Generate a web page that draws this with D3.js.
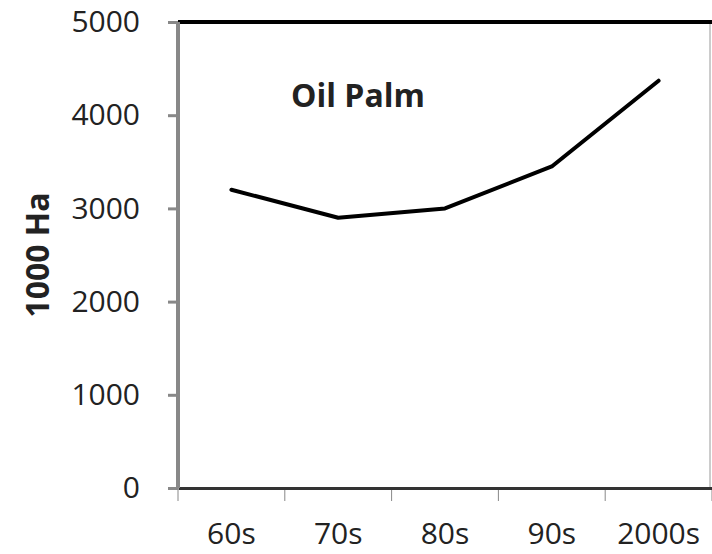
<!DOCTYPE html>
<html>
<head>
<meta charset="utf-8">
<script src="https://cdn.jsdelivr.net/npm/d3@7"></script>
<style>
  body { margin: 0; background: #fff; }
  text { font-family: "Open Sans", "DejaVu Sans", sans-serif; fill: #222; }
</style>
</head>
<body>
<div id="chart"></div>
<script>
const decades = ["60s", "70s", "80s", "90s", "2000s"];
const areaValues = [3200, 2900, 3000, 3450, 4370];
const yTicks = [0, 1000, 2000, 3000, 4000, 5000];

const width = 712, height = 554;
const margin = { top: 22, right: 2, bottom: 66, left: 178 };

const svg = d3.select("#chart").append("svg")
    .attr("width", width)
    .attr("height", height);

const x = d3.scaleBand()
    .domain(decades)
    .range([margin.left, width - margin.right + 2]);

const y = d3.scaleLinear()
    .domain([0, 5000])
    .range([height - margin.bottom, margin.top]);

// right border
svg.append("line")
    .attr("x1", width - 2).attr("x2", width - 2)
    .attr("y1", y(5000)).attr("y2", y(0))
    .attr("stroke", "#999").attr("stroke-width", 1);

// top frame line
svg.append("line")
    .attr("x1", margin.left).attr("x2", width)
    .attr("y1", y(5000)).attr("y2", y(5000))
    .attr("stroke", "#000").attr("stroke-width", 4);

// x axis
const xAxis = svg.append("g")
    .attr("transform", `translate(0,${y(0)})`)
    .call(d3.axisBottom(x).tickSize(0).tickPadding(35));
xAxis.select(".domain").attr("stroke", "#333").attr("stroke-width", 3);
xAxis.selectAll("text").style("font-size", "30px").attr("fill", "#222");

// x tick marks at band edges
svg.append("g").selectAll("line")
    .data(decades.concat(["end"]))
    .join("line")
    .attr("x1", (d, i) => margin.left + i * x.step())
    .attr("x2", (d, i) => margin.left + i * x.step())
    .attr("y1", y(0) + 2).attr("y2", y(0) + 13)
    .attr("stroke", "#888").attr("stroke-width", 1);

// y axis
const yAxis = svg.append("g")
    .attr("transform", `translate(${margin.left},0)`)
    .call(d3.axisLeft(y).tickValues(yTicks).tickFormat(d3.format("d")).tickSize(10).tickPadding(28));
yAxis.select(".domain").attr("stroke", "#888").attr("stroke-width", 4)
    .attr("d", `M0,${y(5000)}V${y(0)}`);
yAxis.selectAll(".tick line").attr("stroke", "#888").attr("stroke-width", 3);
yAxis.selectAll("text").style("font-size", "30px").attr("fill", "#222");

// y label
svg.append("text")
    .attr("transform", `translate(38,${(y(0) + y(5000)) / 2}) rotate(-90)`)
    .attr("text-anchor", "middle")
    .attr("dy", "0.35em")
    .style("font-size", "32px")
    .style("font-weight", "bold")
    .text("1000 Ha");

// title inside plot
svg.append("text")
    .attr("x", 291).attr("y", 107)
    .style("font-size", "32px")
    .style("font-weight", "bold")
    .text("Oil Palm");

// line
const line = d3.line()
    .x((d, i) => x(decades[i]) + x.bandwidth() / 2)
    .y(d => y(d));

svg.append("path")
    .datum(areaValues)
    .attr("d", line)
    .attr("fill", "none")
    .attr("stroke", "#000")
    .attr("stroke-width", 4)
    .attr("stroke-linecap", "round")
    .attr("stroke-linejoin", "round");
</script>
</body>
</html>
